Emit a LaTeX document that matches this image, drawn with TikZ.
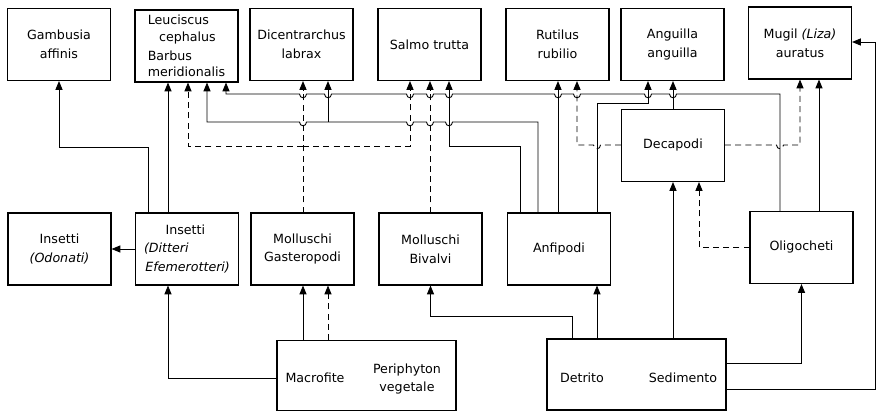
\documentclass[tikz,border=0pt]{standalone}
\usepackage{fontspec}
\setmainfont{DejaVu Sans}
\usetikzlibrary{arrows.meta}
% small bridge where a horizontal line passes a vertical one
\newcommand{\hopr}[2]{-- (#1-3.5,#2) .. controls (#1-3.5,#2+5) and (#1+3.5,#2+5) .. (#1+3.5,#2)}
\newcommand{\hopl}[2]{-- (#1+3.5,#2) .. controls (#1+3.5,#2+5) and (#1-3.5,#2+5) .. (#1-3.5,#2)}

\begin{document}
\begin{tikzpicture}[x=0.02cm, y=-0.02cm,
    every node/.style={font=\fontsize{7.2}{10.6}\selectfont},
    box/.style={draw, line width=0.6pt, minimum width=2.06cm, minimum height=1.44cm, inner sep=1pt, align=center},
    wide/.style={draw, line width=0.6pt, minimum width=3.58cm, minimum height=1.40cm},
    flow/.style={line width=0.5pt, -{Triangle[length=5pt,width=4pt]}},
    minor/.style={flow, dash pattern=on 3.4pt off 2.4pt}]
  \useasboundingbox (0,0) rectangle (877,412);

  % Pesci (top row)
  \node[box] (gam) at (59,44.5) {Gambusia\\affinis};
  \node[box, align=left, font=\fontsize{7.2}{9.6}\selectfont] (leu) at (186.5,46) {Leuciscus\\\hspace*{0.9em}cephalus\\[1pt]Barbus\\meridionalis};
  \node[box] (dic) at (301.5,44.5) {Dicentrarchus\\labrax};
  \node[box] (sal) at (429.5,44.5) {Salmo trutta};
  \node[box] (rut) at (557.5,44.5) {Rutilus\\rubilio};
  \node[box] (ang) at (672.5,44.5) {Anguilla\\anguilla};
  \node[box] (mug) at (800,43) {Mugil \textit{(Liza)}\\auratus};

  % Invertebrati
  \node[box] (dec) at (673,145.5) {Decapodi};
  \node[box] (odo) at (59.5,249) {Insetti\\\textit{(Odonati)}};
  \node[box, align=left] (ditt) at (187,249) {\hspace*{1.7em}Insetti\\\textit{(Ditteri}\\\hspace*{0.1em}\textit{Efemerotteri)}};
  \node[box] (gas) at (302.5,249) {Molluschi\\Gasteropodi};
  \node[box] (biv) at (430.5,249) {Molluschi\\Bivalvi};
  \node[box] (anf) at (559,249) {Anfipodi};
  \node[box] (oli) at (801.5,247.5) {Oligocheti};

  % Risorse di base
  \node[wide] (mac) at (366.5,375.5) {};
  \node (macT) at (315,378) {Macrofite};
  \node[align=center] (perT) at (407,379) {Periphyton\\vegetale};
  \node[wide, minimum height=1.42cm] (det) at (636.5,374.5) {};
  \node (detT) at (582,378) {Detrito};
  \node (sedT) at (683,378) {Sedimento};

  % junctions
  \coordinate (jA) at (328,122);
  \coordinate (jB) at (303,146);

  % from macrofite
  \draw[flow] (mac.west |- macT) -| (168,0 |- ditt.south);
  \draw[flow] (303,0 |- mac.north) -- (303,0 |- gas.south);
  \draw[minor] (328,0 |- mac.north) -- (328,0 |- gas.south);

  % from detrito / sedimento
  \draw[flow] (572,0 |- det.north) |- (430.5,316) -- (biv.south);
  \draw[flow] (597,0 |- det.north) -- (597,0 |- anf.south);
  \draw[flow] (dec.south |- det.north) -- (dec.south);
  \draw[flow] (det.east |- 0,363) -| (oli.south);
  \draw[flow] (det.east |- 0,389) -| (875,42) -- (mug.east |- 0,42);

  % insetti
  \draw[flow] (ditt.west) -- (odo.east);
  \draw[flow] (148,0 |- ditt.north) |- (59,147) -- (gam.south);
  \draw[flow] (168,0 |- ditt.north) -- (168,0 |- leu.south);

  % molluschi
  \draw[minor] (303,0 |- gas.north) -- (303,0 |- dic.south);
  \draw[minor] (jB) -| (188,0 |- leu.south);
  \draw[minor] (jB) -| (410,0 |- sal.south);
  \draw[minor] (430,0 |- biv.north) -- (430,0 |- sal.south);

  % anfipodi
  \draw[flow] (520,0 |- anf.north) |- (449,146) -- (449,0 |- sal.south);
  \draw[flow] (538,0 |- anf.north) -- (538,122) \hopl{449}{122} \hopl{430}{122} \hopl{410}{122}
    -- (jA) \hopl{303}{122} -| (207,0 |- leu.south);
  \draw[flow] (jA) -- (328,0 |- dic.south);
  \draw[flow] (558,0 |- anf.north) -- (558,0 |- rut.south);
  \draw[flow] (597,0 |- anf.north) |- (648,103) -- (648,0 |- ang.south);

  % decapodi
  \draw[flow] (dec.north) -- (dec.north |- ang.south);
  \draw[minor] (dec.west |- 0,145) \hopl{597}{145} -| (577,0 |- rut.south);
  \draw[minor] (dec.east |- 0,145) \hopr{780}{145} -| (mug.south);

  % oligocheti
  \draw[minor] (oli.west) -| (699,0 |- dec.south);
  \draw[flow] (819,0 |- oli.north) -- (819,0 |- mug.south);
  \draw[flow] (780,0 |- oli.north) -- (780,94) \hopl{673}{94} \hopl{648}{94} \hopl{577}{94} \hopl{558}{94}
    \hopl{449}{94} \hopl{430}{94} \hopl{410}{94} \hopl{328}{94} \hopl{303}{94} -| (226,0 |- leu.south);
\end{tikzpicture}
\end{document}
